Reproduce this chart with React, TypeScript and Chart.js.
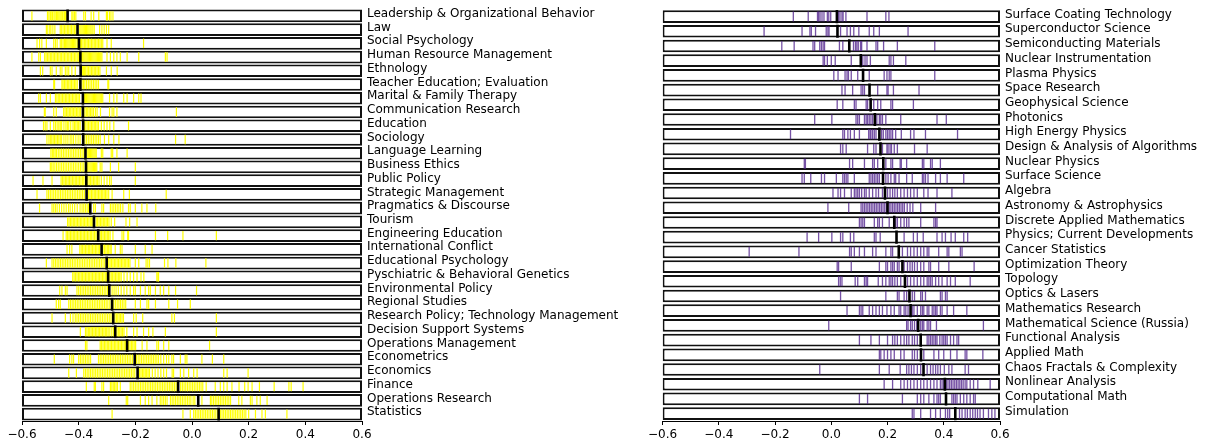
import React, { useEffect, useRef } from 'react';
import { Chart, registerables } from 'chart.js';

Chart.register(...registerables);

const FONT = "'DejaVu Sans', sans-serif";

const xTickValues = [-0.6, -0.4, -0.2, 0.0, 0.2, 0.4, 0.6];
const xMin = -0.6;
const xMax = 0.6;

const leftCategories = [
  'Leadership & Organizational Behavior', 'Law', 'Social Psychology', 'Human Resource Management',
  'Ethnology', 'Teacher Education; Evaluation', 'Marital & Family Therapy', 'Communication Research',
  'Education', 'Sociology', 'Language Learning', 'Business Ethics', 'Public Policy',
  'Strategic Management', 'Pragmatics & Discourse', 'Tourism', 'Engineering Education',
  'International Conflict', 'Educational Psychology', 'Pyschiatric & Behavioral Genetics',
  'Environmental Policy', 'Regional Studies', 'Research Policy; Technology Management',
  'Decision Support Systems', 'Operations Management', 'Econometrics', 'Economics', 'Finance',
  'Operations Research', 'Statistics',
];

const leftMedians = [
  -0.439, -0.404, -0.399, -0.394, -0.393, -0.394, -0.385, -0.385, -0.384, -0.384,
  -0.376, -0.374, -0.373, -0.372, -0.359, -0.346, -0.331, -0.319, -0.301, -0.296,
  -0.292, -0.282, -0.278, -0.271, -0.229, -0.202, -0.192, -0.049, 0.022, 0.094,
];

const leftTicks = [
  [-0.565,-0.51,-0.505,-0.5,-0.497,-0.492,-0.487,-0.483,-0.478,-0.474,-0.47,-0.466,-0.462,-0.458,-0.455,-0.45,-0.447,-0.444,-0.424,-0.42,-0.415,-0.41,-0.382,-0.376,-0.356,-0.347,-0.329,-0.302,-0.298,-0.291,-0.286,-0.279],
  [-0.514,-0.509,-0.502,-0.498,-0.491,-0.484,-0.465,-0.46,-0.455,-0.45,-0.445,-0.44,-0.435,-0.43,-0.425,-0.42,-0.415,-0.41,-0.396,-0.392,-0.388,-0.384,-0.38,-0.376,-0.372,-0.368,-0.364,-0.36,-0.356,-0.35,-0.345,-0.326,-0.318,-0.31,-0.302,-0.294],
  [-0.547,-0.538,-0.53,-0.514,-0.488,-0.482,-0.476,-0.465,-0.46,-0.455,-0.45,-0.446,-0.442,-0.438,-0.434,-0.43,-0.426,-0.422,-0.418,-0.414,-0.41,-0.405,-0.394,-0.39,-0.385,-0.38,-0.375,-0.37,-0.365,-0.36,-0.355,-0.35,-0.345,-0.34,-0.335,-0.33,-0.325,-0.32,-0.315,-0.3,-0.285,-0.171],
  [-0.565,-0.541,-0.535,-0.52,-0.515,-0.51,-0.505,-0.5,-0.495,-0.49,-0.485,-0.48,-0.475,-0.47,-0.465,-0.46,-0.455,-0.45,-0.445,-0.44,-0.435,-0.43,-0.425,-0.42,-0.415,-0.41,-0.405,-0.4,-0.39,-0.386,-0.382,-0.378,-0.374,-0.37,-0.366,-0.362,-0.358,-0.354,-0.35,-0.346,-0.342,-0.338,-0.334,-0.33,-0.326,-0.322,-0.318,-0.3,-0.288,-0.276,-0.265,-0.253,-0.229,-0.188,-0.094,-0.088],
  [-0.535,-0.527,-0.5,-0.494,-0.479,-0.465,-0.459,-0.447,-0.441,-0.435,-0.424,-0.412,-0.387,-0.383,-0.379,-0.375,-0.37,-0.365,-0.36,-0.355,-0.35,-0.345,-0.34,-0.335,-0.33,-0.325,-0.302,-0.285,-0.264],
  [-0.488,-0.485,-0.459,-0.455,-0.45,-0.445,-0.44,-0.435,-0.43,-0.425,-0.42,-0.415,-0.41,-0.405,-0.388,-0.383,-0.378,-0.372,-0.366,-0.36,-0.354,-0.348,-0.342,-0.336,-0.33,-0.297,-0.294],
  [-0.541,-0.535,-0.514,-0.5,-0.482,-0.477,-0.472,-0.467,-0.462,-0.457,-0.452,-0.447,-0.442,-0.437,-0.432,-0.427,-0.422,-0.417,-0.412,-0.407,-0.402,-0.397,-0.38,-0.376,-0.372,-0.368,-0.364,-0.36,-0.356,-0.352,-0.348,-0.344,-0.34,-0.336,-0.332,-0.328,-0.324,-0.32,-0.315,-0.291,-0.276,-0.265,-0.241,-0.229,-0.206,-0.188,-0.18],
  [-0.521,-0.518,-0.488,-0.479,-0.453,-0.448,-0.443,-0.438,-0.433,-0.428,-0.423,-0.418,-0.413,-0.408,-0.403,-0.398,-0.393,-0.378,-0.373,-0.368,-0.363,-0.358,-0.353,-0.348,-0.341,-0.335,-0.323,-0.291,-0.282,-0.276,-0.265,-0.055],
  [-0.524,-0.518,-0.512,-0.5,-0.488,-0.482,-0.476,-0.47,-0.465,-0.46,-0.452,-0.445,-0.44,-0.435,-0.428,-0.42,-0.415,-0.41,-0.405,-0.4,-0.395,-0.38,-0.375,-0.37,-0.365,-0.36,-0.355,-0.35,-0.345,-0.34,-0.335,-0.33,-0.32,-0.31,-0.3,-0.29,-0.276,-0.224],
  [-0.512,-0.505,-0.5,-0.495,-0.49,-0.485,-0.48,-0.475,-0.47,-0.465,-0.46,-0.452,-0.445,-0.438,-0.43,-0.424,-0.418,-0.41,-0.402,-0.395,-0.378,-0.372,-0.366,-0.36,-0.354,-0.348,-0.342,-0.336,-0.33,-0.324,-0.309,-0.294,-0.276,-0.258,-0.058,-0.024],
  [-0.498,-0.493,-0.488,-0.483,-0.478,-0.472,-0.466,-0.46,-0.454,-0.448,-0.442,-0.436,-0.43,-0.424,-0.418,-0.412,-0.406,-0.4,-0.394,-0.388,-0.382,-0.37,-0.366,-0.362,-0.358,-0.354,-0.35,-0.346,-0.342,-0.338,-0.32,-0.315,-0.285,-0.28,-0.265,-0.229],
  [-0.5,-0.495,-0.49,-0.484,-0.478,-0.472,-0.466,-0.46,-0.454,-0.448,-0.442,-0.436,-0.43,-0.424,-0.418,-0.412,-0.406,-0.4,-0.394,-0.388,-0.382,-0.368,-0.364,-0.36,-0.356,-0.352,-0.348,-0.344,-0.34,-0.336,-0.324,-0.318,-0.288,-0.259,-0.2],
  [-0.561,-0.526,-0.494,-0.462,-0.457,-0.452,-0.447,-0.442,-0.437,-0.432,-0.427,-0.422,-0.417,-0.412,-0.407,-0.402,-0.397,-0.392,-0.387,-0.382,-0.377,-0.368,-0.363,-0.358,-0.353,-0.348,-0.343,-0.338,-0.333,-0.328,-0.32,-0.31,-0.3,-0.291,-0.285,-0.2],
  [-0.547,-0.512,-0.506,-0.5,-0.494,-0.488,-0.482,-0.476,-0.47,-0.464,-0.458,-0.452,-0.446,-0.44,-0.434,-0.428,-0.422,-0.416,-0.41,-0.404,-0.398,-0.392,-0.386,-0.38,-0.365,-0.36,-0.355,-0.35,-0.345,-0.34,-0.335,-0.33,-0.325,-0.32,-0.315,-0.31,-0.305,-0.3,-0.294,-0.282,-0.241,-0.221,-0.091],
  [-0.538,-0.494,-0.488,-0.482,-0.476,-0.468,-0.46,-0.452,-0.444,-0.436,-0.43,-0.422,-0.414,-0.405,-0.395,-0.388,-0.382,-0.376,-0.37,-0.365,-0.347,-0.341,-0.318,-0.312,-0.288,-0.282,-0.276,-0.27,-0.264,-0.258,-0.252,-0.244,-0.224,-0.218,-0.2,-0.177,-0.159,-0.128],
  [-0.439,-0.434,-0.429,-0.424,-0.419,-0.414,-0.409,-0.404,-0.399,-0.394,-0.389,-0.384,-0.379,-0.374,-0.369,-0.364,-0.359,-0.354,-0.35,-0.338,-0.333,-0.328,-0.323,-0.318,-0.313,-0.308,-0.303,-0.298,-0.293,-0.285,-0.273,-0.233,-0.22,-0.194],
  [-0.455,-0.444,-0.439,-0.434,-0.429,-0.424,-0.419,-0.414,-0.409,-0.404,-0.399,-0.394,-0.389,-0.384,-0.379,-0.374,-0.369,-0.364,-0.359,-0.354,-0.349,-0.344,-0.339,-0.334,-0.324,-0.319,-0.314,-0.309,-0.304,-0.299,-0.294,-0.289,-0.279,-0.247,-0.241,-0.227,-0.224,-0.129,-0.086,-0.032,0.086],
  [-0.441,-0.432,-0.424,-0.396,-0.391,-0.386,-0.381,-0.376,-0.371,-0.366,-0.361,-0.356,-0.351,-0.346,-0.341,-0.336,-0.331,-0.326,-0.314,-0.309,-0.304,-0.299,-0.294,-0.289,-0.285,-0.271,-0.253,-0.247,-0.2,-0.165,-0.141],
  [-0.514,-0.494,-0.488,-0.482,-0.476,-0.47,-0.464,-0.458,-0.452,-0.446,-0.44,-0.434,-0.428,-0.422,-0.416,-0.41,-0.404,-0.398,-0.392,-0.386,-0.38,-0.374,-0.368,-0.362,-0.356,-0.35,-0.344,-0.338,-0.332,-0.326,-0.32,-0.314,-0.308,-0.294,-0.289,-0.284,-0.279,-0.274,-0.269,-0.264,-0.259,-0.254,-0.249,-0.244,-0.239,-0.234,-0.229,-0.224,-0.219,-0.2,-0.188,-0.162,-0.156,-0.15,-0.097,-0.085,-0.057,0.049],
  [-0.421,-0.416,-0.411,-0.406,-0.401,-0.396,-0.391,-0.386,-0.381,-0.376,-0.371,-0.366,-0.361,-0.356,-0.351,-0.346,-0.341,-0.336,-0.331,-0.326,-0.321,-0.316,-0.311,-0.306,-0.301,-0.29,-0.285,-0.28,-0.275,-0.27,-0.265,-0.26,-0.255,-0.25,-0.24,-0.229,-0.218,-0.206,-0.194,-0.18,-0.17,-0.124,-0.12,-0.118],
  [-0.467,-0.459,-0.447,-0.441,-0.406,-0.4,-0.394,-0.388,-0.382,-0.376,-0.37,-0.364,-0.358,-0.352,-0.346,-0.34,-0.334,-0.328,-0.322,-0.316,-0.31,-0.304,-0.298,-0.282,-0.275,-0.268,-0.26,-0.25,-0.24,-0.23,-0.218,-0.206,-0.2,-0.182,-0.165,-0.153,-0.147,-0.129,-0.112,-0.1,-0.082,-0.058,0.016],
  [-0.479,-0.471,-0.465,-0.435,-0.429,-0.423,-0.417,-0.411,-0.405,-0.399,-0.393,-0.387,-0.381,-0.375,-0.369,-0.363,-0.357,-0.351,-0.345,-0.339,-0.333,-0.327,-0.321,-0.315,-0.309,-0.303,-0.297,-0.29,-0.276,-0.27,-0.264,-0.258,-0.252,-0.246,-0.24,-0.234,-0.2,-0.182,-0.159,-0.153,-0.129,-0.082,-0.051,-0.006],
  [-0.494,-0.447,-0.429,-0.42,-0.412,-0.406,-0.4,-0.394,-0.388,-0.382,-0.376,-0.37,-0.364,-0.358,-0.352,-0.346,-0.34,-0.334,-0.328,-0.322,-0.316,-0.31,-0.304,-0.298,-0.292,-0.286,-0.272,-0.267,-0.262,-0.257,-0.252,-0.247,-0.242,-0.206,-0.197,-0.174,-0.071,-0.062,0.086],
  [-0.394,-0.376,-0.371,-0.366,-0.361,-0.356,-0.351,-0.346,-0.341,-0.336,-0.331,-0.326,-0.321,-0.316,-0.311,-0.306,-0.301,-0.296,-0.29,-0.283,-0.277,-0.265,-0.26,-0.255,-0.25,-0.245,-0.24,-0.23,-0.206,-0.194,-0.171,-0.153,-0.138,-0.094,0.086],
  [-0.376,-0.371,-0.324,-0.319,-0.314,-0.309,-0.304,-0.299,-0.294,-0.289,-0.284,-0.279,-0.274,-0.269,-0.264,-0.259,-0.254,-0.249,-0.244,-0.239,-0.234,-0.224,-0.219,-0.214,-0.209,-0.204,-0.199,-0.176,-0.159,-0.124,-0.118,-0.1,-0.082,0.062],
  [-0.486,-0.432,-0.424,-0.418,-0.4,-0.394,-0.388,-0.382,-0.376,-0.37,-0.364,-0.358,-0.33,-0.324,-0.318,-0.312,-0.306,-0.3,-0.294,-0.288,-0.282,-0.276,-0.27,-0.264,-0.258,-0.252,-0.246,-0.24,-0.234,-0.228,-0.222,-0.216,-0.21,-0.196,-0.19,-0.184,-0.178,-0.172,-0.166,-0.16,-0.154,-0.148,-0.142,-0.136,-0.13,-0.124,-0.118,-0.11,-0.1,-0.09,-0.082,-0.071,-0.065,-0.041,-0.024,-0.018,0.035,0.072,0.112],
  [-0.435,-0.408,-0.382,-0.376,-0.37,-0.364,-0.358,-0.352,-0.346,-0.34,-0.334,-0.328,-0.322,-0.316,-0.31,-0.304,-0.298,-0.292,-0.286,-0.28,-0.274,-0.268,-0.262,-0.256,-0.25,-0.244,-0.238,-0.232,-0.226,-0.22,-0.214,-0.208,-0.202,-0.185,-0.18,-0.175,-0.17,-0.165,-0.16,-0.155,-0.15,-0.14,-0.13,-0.12,-0.11,-0.1,-0.09,-0.07,-0.065,-0.041,-0.029,-0.012,0.006,0.018,0.112,0.124,0.198],
  [-0.373,-0.345,-0.341,-0.318,-0.312,-0.288,-0.283,-0.278,-0.273,-0.268,-0.263,-0.253,-0.218,-0.212,-0.206,-0.2,-0.194,-0.188,-0.182,-0.176,-0.17,-0.164,-0.158,-0.152,-0.146,-0.14,-0.134,-0.128,-0.122,-0.116,-0.11,-0.104,-0.098,-0.092,-0.086,-0.08,-0.074,-0.068,-0.062,-0.056,-0.04,-0.034,-0.028,-0.022,-0.016,-0.01,-0.004,0.002,0.008,0.014,0.02,0.026,0.032,0.038,0.05,0.082,0.1,0.112,0.124,0.141,0.166,0.186,0.198,0.212,0.238,0.29,0.342,0.35,0.392],
  [-0.294,-0.232,-0.227,-0.182,-0.165,-0.153,-0.141,-0.124,-0.112,-0.106,-0.1,-0.094,-0.088,-0.076,-0.07,-0.064,-0.058,-0.052,-0.046,-0.04,-0.034,-0.028,-0.022,-0.016,-0.01,-0.004,0.004,0.01,0.035,0.065,0.07,0.076,0.082,0.088,0.094,0.1,0.106,0.112,0.118,0.124,0.13,0.136,0.165,0.176,0.206,0.212,0.229,0.241,0.265],
  [-0.282,-0.032,-0.006,0.006,0.012,0.018,0.024,0.03,0.036,0.042,0.048,0.054,0.06,0.066,0.072,0.078,0.084,0.09,0.1,0.106,0.112,0.118,0.124,0.13,0.136,0.142,0.148,0.154,0.16,0.166,0.172,0.178,0.184,0.19,0.2,0.224,0.247,0.259,0.335],
];

const rightCategories = [
  'Surface Coating Technology', 'Superconductor Science', 'Semiconducting Materials',
  'Nuclear Instrumentation', 'Plasma Physics', 'Space Research', 'Geophysical Science', 'Photonics',
  'High Energy Physics', 'Design & Analysis of Algorithms', 'Nuclear Physics', 'Surface Science',
  'Algebra', 'Astronomy & Astrophysics', 'Discrete Applied Mathematics',
  'Physics; Current Developments', 'Cancer Statistics', 'Optimization Theory', 'Topology',
  'Optics & Lasers', 'Mathematics Research', 'Mathematical Science (Russia)', 'Functional Analysis',
  'Applied Math', 'Chaos Fractals & Complexity', 'Nonlinear Analysis', 'Computational Math',
  'Simulation',
];

const rightMedians = [
  0.020, 0.022, 0.064, 0.105, 0.113, 0.136, 0.140, 0.155, 0.171, 0.175,
  0.185, 0.184, 0.191, 0.200, 0.224, 0.232, 0.240, 0.253, 0.262, 0.278,
  0.282, 0.309, 0.318, 0.319, 0.328, 0.404, 0.408, 0.441,
];

const rightTicks = [
  [-0.135,-0.082,-0.049,-0.045,-0.04,-0.033,-0.026,-0.014,-0.009,-0.002,0.026,0.031,0.038,0.042,0.052,0.127,0.194,0.205],
  [-0.239,-0.104,-0.076,-0.071,-0.056,-0.018,-0.012,-0.008,0.033,0.056,0.068,0.08,0.098,0.135,0.151,0.171,0.273],
  [-0.176,-0.132,-0.065,-0.059,-0.041,-0.035,-0.029,-0.024,0.029,0.041,0.079,0.086,0.091,0.096,0.104,0.108,0.127,0.159,0.165,0.186,0.235,0.368],
  [-0.029,-0.024,-0.014,0,0.014,0.071,0.112,0.12,0.127,0.139,0.206,0.212,0.221,0.265],
  [0.009,0.024,0.049,0.056,0.061,0.071,0.094,0.135,0.188,0.198,0.206,0.212,0.368],
  [0.038,0.049,0.076,0.106,0.112,0.118,0.165,0.198,0.202,0.221,0.312],
  [0.021,0.041,0.082,0.088,0.124,0.129,0.151,0.165,0.176,0.212,0.218,0.292],
  [-0.059,0.002,0.088,0.094,0.1,0.118,0.124,0.129,0.135,0.141,0.147,0.162,0.171,0.176,0.182,0.194,0.247,0.376,0.409],
  [-0.145,0.041,0.047,0.059,0.068,0.082,0.1,0.133,0.138,0.141,0.147,0.153,0.159,0.179,0.185,0.194,0.2,0.206,0.212,0.218,0.229,0.249,0.282,0.294,0.335,0.449],
  [0.033,0.041,0.053,0.129,0.151,0.159,0.182,0.198,0.202,0.209,0.214,0.224,0.235,0.296,0.341],
  [-0.096,-0.092,0.065,0.076,0.118,0.147,0.153,0.165,0.194,0.212,0.218,0.245,0.249,0.268,0.324,0.329,0.353,0.359,0.388],
  [-0.104,-0.096,-0.073,-0.035,-0.024,0.018,0.041,0.047,0.053,0.059,0.082,0.135,0.141,0.147,0.153,0.159,0.165,0.171,0.194,0.202,0.212,0.224,0.229,0.241,0.268,0.288,0.324,0.329,0.335,0.344,0.371,0.388,0.412,0.471],
  [0.006,0.024,0.033,0.047,0.071,0.082,0.088,0.094,0.1,0.108,0.118,0.124,0.135,0.147,0.159,0.168,0.182,0.2,0.209,0.218,0.226,0.235,0.247,0.259,0.271,0.282,0.294,0.306,0.329,0.344,0.376,0.429],
  [-0.012,0.062,0.106,0.112,0.118,0.124,0.13,0.136,0.142,0.148,0.154,0.16,0.166,0.172,0.178,0.184,0.19,0.196,0.206,0.212,0.218,0.224,0.23,0.236,0.242,0.248,0.254,0.26,0.27,0.28,0.29,0.318,0.371],
  [0.1,0.106,0.112,0.118,0.153,0.165,0.171,0.182,0.206,0.229,0.235,0.247,0.259,0.268,0.276,0.318,0.365,0.371,0.376],
  [-0.086,-0.045,0.002,0.033,0.041,0.068,0.08,0.153,0.159,0.174,0.259,0.292,0.306,0.327,0.376,0.394,0.406,0.426,0.441,0.471,0.485],
  [-0.292,-0.115,0.065,0.071,0.082,0.1,0.118,0.147,0.159,0.194,0.212,0.218,0.253,0.271,0.282,0.294,0.306,0.318,0.329,0.341,0.347,0.382,0.412,0.418,0.459,0.465],
  [0.021,0.026,0.071,0.171,0.194,0.2,0.212,0.218,0.224,0.235,0.241,0.259,0.271,0.28,0.288,0.296,0.306,0.318,0.329,0.347,0.353,0.382,0.418,0.508],
  [0.026,0.032,0.038,0.085,0.094,0.118,0.124,0.129,0.167,0.182,0.194,0.206,0.212,0.218,0.226,0.235,0.247,0.271,0.282,0.294,0.306,0.318,0.329,0.341,0.347,0.353,0.359,0.371,0.382,0.394,0.412,0.424,0.441,0.494],
  [0.033,0.194,0.235,0.241,0.259,0.268,0.288,0.296,0.318,0.324,0.335,0.388,0.394,0.406,0.412],
  [0.056,0.1,0.106,0.112,0.135,0.147,0.159,0.171,0.182,0.198,0.212,0.224,0.241,0.247,0.259,0.265,0.273,0.288,0.294,0.306,0.318,0.324,0.329,0.341,0.347,0.359,0.365,0.371,0.376,0.388,0.394,0.412,0.435,0.482],
  [-0.009,0.268,0.273,0.282,0.288,0.296,0.304,0.318,0.324,0.329,0.341,0.347,0.353,0.374,0.541],
  [0.1,0.141,0.171,0.2,0.218,0.226,0.235,0.247,0.259,0.268,0.276,0.288,0.296,0.306,0.341,0.347,0.353,0.359,0.365,0.371,0.376,0.386,0.394,0.4,0.406,0.412,0.424,0.435,0.447,0.453],
  [0.171,0.176,0.188,0.2,0.212,0.224,0.247,0.259,0.288,0.296,0.306,0.329,0.365,0.382,0.4,0.424,0.447,0.476,0.482,0.539],
  [-0.041,0.171,0.206,0.245,0.268,0.276,0.285,0.294,0.306,0.318,0.341,0.353,0.362,0.371,0.379,0.388,0.402,0.418,0.429,0.476,0.488],
  [0.188,0.218,0.247,0.259,0.271,0.282,0.294,0.306,0.318,0.329,0.341,0.353,0.365,0.376,0.388,0.394,0.4,0.409,0.415,0.421,0.427,0.433,0.439,0.445,0.451,0.457,0.463,0.469,0.476,0.482,0.494,0.506,0.521,0.565],
  [0.1,0.129,0.253,0.306,0.318,0.329,0.347,0.365,0.376,0.382,0.388,0.429,0.435,0.441,0.447,0.459,0.471,0.482,0.494,0.506,0.512],
  [0.288,0.294,0.318,0.353,0.371,0.388,0.406,0.414,0.421,0.456,0.465,0.476,0.484,0.494,0.503,0.512,0.52,0.529,0.541,0.559,0.571,0.582],
];

function fmt(v: number): string {
  if (Math.abs(v) < 1e-9) return '0.0';
  return v.toFixed(1).replace('-', '\u2212');
}

type PanelProps = {
  left: number;
  width: number;
  padLeft: number;
  axisWidth: number;
  categories: string[];
  medians: number[];
  ticks: number[][];
  color: string;
  tickWidth: number;
  tickRadius: number;
  medianRadius: number;
  barPct: number;
};

function Panel(p: PanelProps) {
  const ref = useRef<HTMLCanvasElement>(null);
  useEffect(() => {
    if (!ref.current) return;
    const tickPoints: { x: number; y: string }[] = [];
    p.ticks.forEach((row, i) => row.forEach((v) => tickPoints.push({ x: v, y: p.categories[i] })));
    const medianPoints = p.medians.map((v, i) => ({ x: v, y: p.categories[i] }));
    const chart = new Chart(ref.current, {
      type: 'bar',
      data: {
        labels: p.categories,
        datasets: [
          {
            type: 'scatter',
            data: medianPoints,
            order: 0,
            pointStyle: 'line',
            pointRadius: p.medianRadius,
            pointHoverRadius: p.medianRadius,
            pointRotation: 90,
            pointBorderWidth: 2.6,
            pointBorderColor: '#000',
            pointBackgroundColor: '#000',
          } as any,
          {
            type: 'scatter',
            data: tickPoints,
            order: 1,
            pointStyle: 'line',
            pointRadius: p.tickRadius,
            pointHoverRadius: p.tickRadius,
            pointRotation: 90,
            pointBorderWidth: p.tickWidth,
            pointBorderColor: p.color,
            pointBackgroundColor: p.color,
          } as any,
          {
            type: 'bar',
            data: p.categories.map(() => [xMin, xMax]),
            order: 2,
            backgroundColor: '#ffffff',
            borderColor: '#111111',
            borderWidth: 2,
            borderSkipped: false,
            barPercentage: p.barPct,
            categoryPercentage: 1,
          } as any,
        ],
      },
      options: {
        animation: false,
        responsive: false,
        maintainAspectRatio: false,
        indexAxis: 'y',
        events: [],
        layout: { padding: { left: p.padLeft, top: 9, right: 0, bottom: 0 } },
        plugins: { legend: { display: false }, tooltip: { enabled: false } },
        scales: {
          x: {
            type: 'linear',
            min: xMin,
            max: xMax,
            afterBuildTicks: (s: any) => {
              s.ticks = xTickValues.map((v) => ({ value: v }));
            },
            afterFit: (s: any) => {
              s.height = 26;
            },
            grid: { display: true, drawOnChartArea: false, drawTicks: true, tickLength: 4, color: '#000', lineWidth: 1 },
            border: { display: true, color: '#000', width: 1 },
            ticks: {
              color: '#000',
              font: { family: FONT, size: 12 },
              padding: 3,
              maxRotation: 0,
              autoSkip: false,
              callback: (v: any) => fmt(Number(v)),
            },
          },
          y: {
            type: 'category',
            position: 'right',
            offset: true,
            grid: { display: false, drawTicks: false, tickLength: 0 },
            border: { display: false },
            afterFit: (s: any) => {
              s.width = p.axisWidth;
              s.paddingTop = 0;
              s.paddingBottom = 0;
            },
            ticks: {
              color: '#000',
              font: { family: FONT, size: 12 },
              padding: 5,
              autoSkip: false,
              labelOffset: -2,
              crossAlign: 'near',
            },
          },
        },
      } as any,
    });
    return () => chart.destroy();
  }, []);
  return (
    <canvas
      ref={ref}
      width={p.width}
      height={447}
      style={{ position: 'absolute', left: p.left, top: 0, width: p.width, height: 447 }}
    />
  );
}

export default function App() {
  return (
    <div style={{ position: 'fixed', left: 0, top: 0, width: 1219, height: 447, background: '#fff' }}>
      <Panel
        left={0}
        width={645}
        padLeft={22}
        axisWidth={283}
        categories={leftCategories}
        medians={leftMedians}
        ticks={leftTicks}
        color="rgba(255,255,0,1)"
        tickWidth={1.2}
        tickRadius={4.7}
        medianRadius={6.4}
        barPct={0.92}
      />
      <Panel
        left={645}
        width={574}
        padLeft={15}
        axisWidth={219}
        categories={rightCategories}
        medians={rightMedians}
        ticks={rightTicks}
        color="rgba(84,39,143,0.8)"
        tickWidth={1.3}
        tickRadius={5}
        medianRadius={6.6}
        barPct={0.86}
      />
    </div>
  );
}
